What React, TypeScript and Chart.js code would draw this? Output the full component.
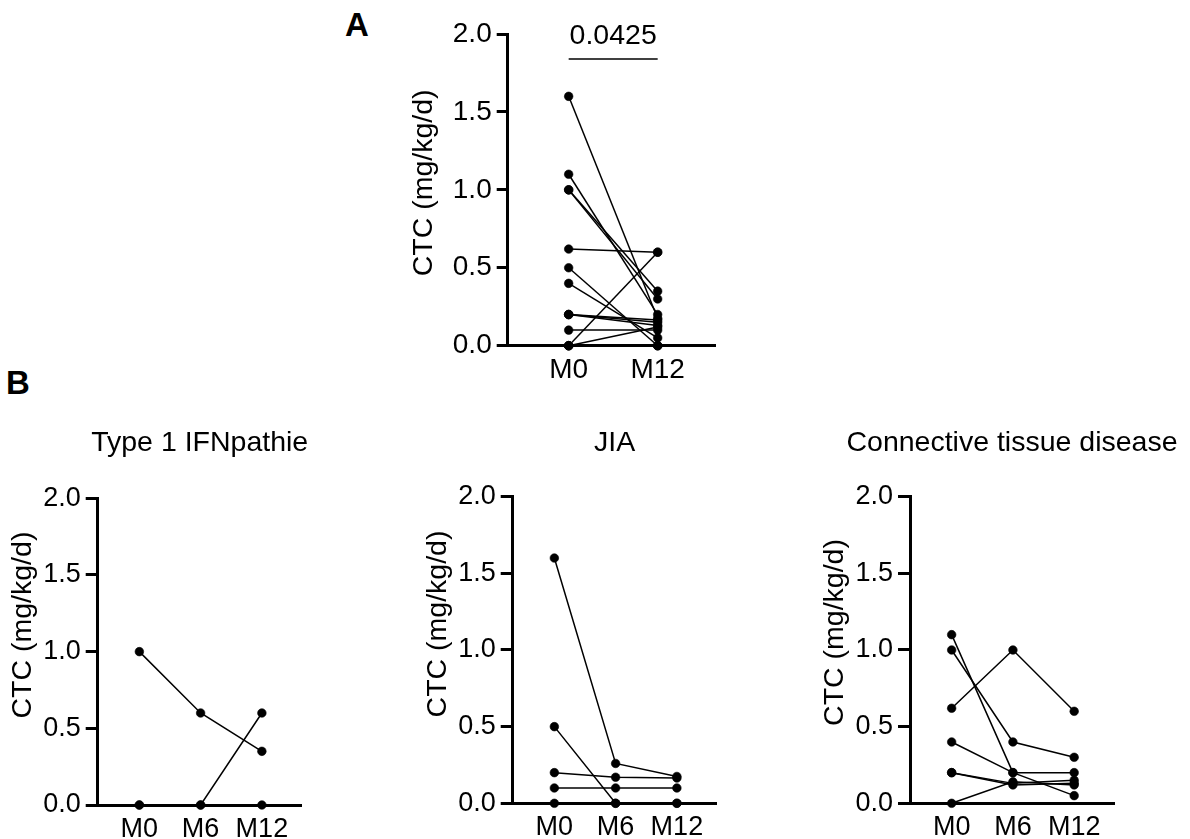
import React, { useEffect, useRef } from 'react';
import { Chart, registerables } from 'chart.js';

Chart.register(...registerables);

const FONT = '"Liberation Sans", Arial, Helvetica, sans-serif';

// ---------------- data ----------------
const timepointsA = ['M0', 'M12'];
const timepointsB = ['M0', 'M6', 'M12'];
const yTickValues = [0, 0.5, 1.0, 1.5, 2.0];
const yTickLabels = ['0.0', '0.5', '1.0', '1.5', '2.0'];
const yAxisTitle = 'CTC (mg/kg/d)';
const pValueText = '0.0425';
const pValueBracketLevel = 1.84;

// Panel A: every patient, M0 vs M12
const allM0 = [1.0, 0, 0, 1.6, 0.5, 0.2, 0.1, 0, 1.1, 1.0, 0.62, 0.4, 0.2, 0.2, 0];
const allM12 = [0.35, 0.6, 0, 0.175, 0, 0.165, 0.1, 0, 0.2, 0.3, 0.6, 0.05, 0.15, 0.13, 0.12];

// Panel B: patients per group, values at M0, M6, M12
const ifnPatients = [
  [1.0, 0.6, 0.35],
  [0, 0, 0.6],
  [0, 0, 0],
];
const jiaPatients = [
  [1.6, 0.26, 0.175],
  [0.5, 0, 0],
  [0.2, 0.17, 0.165],
  [0.1, 0.1, 0.1],
  [0, 0, 0],
];
const ctdPatients = [
  [1.1, 0.2, 0.2],
  [1.0, 0.4, 0.3],
  [0.62, 1.0, 0.6],
  [0.4, 0.2, 0.05],
  [0.2, 0.13, 0.15],
  [0.2, 0.12, 0.13],
  [0, 0.14, 0.12],
];
const panelTitles = ['Type 1 IFNpathie', 'JIA', 'Connective tissue disease'];
const panelLetters = ['A', 'B'];

// ---------------- component ----------------
type Box = { left: number; top: number; width: number; height: number };
type Area = { left: number; top: number; right: number; bottom: number };

interface PanelProps {
  box: Box;
  area: Area;
  labels: string[];
  series: number[][];
  xMin: number;
  xMax: number;
  tickSize: number;
  tickLength: number;
  yTitleDX: number;
  yTitleDY: number;
  title?: string;
  titleDY?: number;
  pValue?: string;
}

function Panel(p: PanelProps) {
  const ref = useRef<HTMLCanvasElement>(null);

  useEffect(() => {
    const canvas = ref.current;
    if (!canvas) return;
    const padTop = p.area.top - p.box.top;
    const padRight = p.box.left + p.box.width - p.area.right;
    const yWidth = p.area.left - p.box.left;
    const xHeight = p.box.top + p.box.height - p.area.bottom;

    const datasets: any[] = p.series.map((vals) => ({
      data: vals.map((v, i) => ({ x: i, y: v })),
      borderColor: '#000',
      backgroundColor: '#000',
      borderWidth: 1.5,
      pointRadius: 4.3,
      pointHoverRadius: 4.3,
      pointBorderWidth: 0.6,
      pointBackgroundColor: '#000',
      pointBorderColor: '#000',
      fill: false,
      tension: 0,
      clip: false,
    }));

    if (p.pValue) {
      datasets.push({
        data: [
          { x: 0, y: pValueBracketLevel },
          { x: 1, y: pValueBracketLevel },
        ],
        borderColor: '#000',
        borderWidth: 1.5,
        pointRadius: 0,
        pointHoverRadius: 0,
        fill: false,
        clip: false,
      });
    }

    const textPlugin = {
      id: 'panelText',
      afterDraw(chart: any) {
        const { ctx, chartArea, scales } = chart;
        ctx.save();
        ctx.fillStyle = '#000';
        // y axis title
        ctx.save();
        ctx.translate(
          chartArea.left + p.yTitleDX,
          (chartArea.top + chartArea.bottom) / 2 + p.yTitleDY
        );
        ctx.rotate(-Math.PI / 2);
        ctx.font = `28.5px ${FONT}`;
        ctx.textAlign = 'center';
        ctx.textBaseline = 'middle';
        ctx.fillText(yAxisTitle, 0, 0);
        ctx.restore();
        // panel title
        if (p.title) {
          ctx.font = `28.5px ${FONT}`;
          ctx.textAlign = 'center';
          ctx.textBaseline = 'alphabetic';
          ctx.fillText(
            p.title,
            (chartArea.left + chartArea.right) / 2,
            chartArea.top + (p.titleDY ?? -47)
          );
        }
        // p value
        if (p.pValue) {
          const x0 = scales.x.getPixelForValue(0);
          const x1 = scales.x.getPixelForValue(1);
          const yb = scales.y.getPixelForValue(pValueBracketLevel);
          ctx.font = `28.5px ${FONT}`;
          ctx.textAlign = 'center';
          ctx.textBaseline = 'alphabetic';
          ctx.fillText(p.pValue, (x0 + x1) / 2, yb - 15);
        }
        ctx.restore();
      },
    };

    const chart = new Chart(canvas, {
      type: 'line',
      data: { datasets },
      plugins: [textPlugin],
      options: {
        responsive: true,
        maintainAspectRatio: false,
        animation: false,
        events: [],
        layout: { padding: { top: padTop, right: padRight, left: 0, bottom: 0 } },
        plugins: {
          legend: { display: false },
          tooltip: { enabled: false },
          title: { display: false },
        },
        scales: {
          x: {
            type: 'linear',
            min: p.xMin,
            max: p.xMax,
            afterBuildTicks: (s: any) => {
              s.ticks = p.labels.map((_, i) => ({ value: i }));
            },
            afterFit: (s: any) => {
              s.height = xHeight;
            },
            grid: { display: false, drawTicks: false },
            border: { display: true, color: '#000', width: 3 },
            ticks: {
              color: '#000',
              font: { family: FONT, size: p.tickSize },
              padding: 8,
              autoSkip: false,
              maxRotation: 0,
              minRotation: 0,
              callback: (v: any) => p.labels[v as number] ?? '',
            },
          },
          y: {
            type: 'linear',
            min: 0,
            max: 2,
            afterBuildTicks: (s: any) => {
              s.ticks = yTickValues.map((v) => ({ value: v }));
            },
            afterFit: (s: any) => {
              s.width = yWidth;
            },
            grid: {
              display: true,
              drawOnChartArea: false,
              drawTicks: true,
              tickLength: p.tickLength,
              lineWidth: 3,
              color: '#000',
            },
            border: { display: true, color: '#000', width: 3 },
            ticks: {
              color: '#000',
              font: { family: FONT, size: p.tickSize },
              padding: 5,
              callback: (v: any) => {
                const i = yTickValues.indexOf(v as number);
                return i >= 0 ? yTickLabels[i] : '';
              },
            },
          },
        },
      } as any,
    });

    return () => chart.destroy();
  }, []);

  return (
    <div
      style={{
        position: 'absolute',
        left: p.box.left,
        top: p.box.top,
        width: p.box.width,
        height: p.box.height,
      }}
    >
      <canvas ref={ref} style={{ display: 'block' }} />
    </div>
  );
}

export default function App() {
  const letterStyle: React.CSSProperties = {
    position: 'absolute',
    font: `bold 33px ${FONT}`,
    lineHeight: 1,
    color: '#000',
  };
  return (
    <div
      style={{
        position: 'fixed',
        left: 0,
        top: 0,
        width: 1190,
        height: 839,
        background: '#fff',
        overflow: 'hidden',
      }}
    >
      <div style={{ ...letterStyle, left: 345, top: 7.5 }}>{panelLetters[0]}</div>
      <div style={{ ...letterStyle, left: 6, top: 366 }}>{panelLetters[1]}</div>

      <Panel
        box={{ left: 330, top: 0, width: 420, height: 400 }}
        area={{ left: 507.7, top: 34, right: 715, bottom: 345.7 }}
        labels={timepointsA}
        series={allM0.map((v, i) => [v, allM12[i]])}
        xMin={-0.685}
        xMax={1.644}
        tickSize={28}
        tickLength={11}
        yTitleDX={-83.7}
        yTitleDY={-7}
        pValue={pValueText}
      />
      <Panel
        box={{ left: 0, top: 400, width: 330, height: 439 }}
        area={{ left: 97.7, top: 498.3, right: 301.7, bottom: 805 }}
        labels={timepointsB}
        series={ifnPatients}
        xMin={-0.68}
        xMax={2.65}
        tickSize={27}
        tickLength={12}
        yTitleDX={-74.7}
        yTitleDY={-26.6}
        title={panelTitles[0]}
        titleDY={-47.7}
      />
      <Panel
        box={{ left: 400, top: 400, width: 340, height: 439 }}
        area={{ left: 512.7, top: 496.7, right: 716.7, bottom: 803.3 }}
        labels={timepointsB}
        series={jiaPatients}
        xMin={-0.68}
        xMax={2.65}
        tickSize={27}
        tickLength={12}
        yTitleDX={-74.7}
        yTitleDY={-26}
        title={panelTitles[1]}
        titleDY={-46.1}
      />
      <Panel
        box={{ left: 800, top: 400, width: 390, height: 439 }}
        area={{ left: 910, top: 496.7, right: 1114, bottom: 803.3 }}
        labels={timepointsB}
        series={ctdPatients}
        xMin={-0.68}
        xMax={2.65}
        tickSize={27}
        tickLength={12}
        yTitleDX={-75}
        yTitleDY={-17.5}
        title={panelTitles[2]}
        titleDY={-46.1}
      />
    </div>
  );
}
